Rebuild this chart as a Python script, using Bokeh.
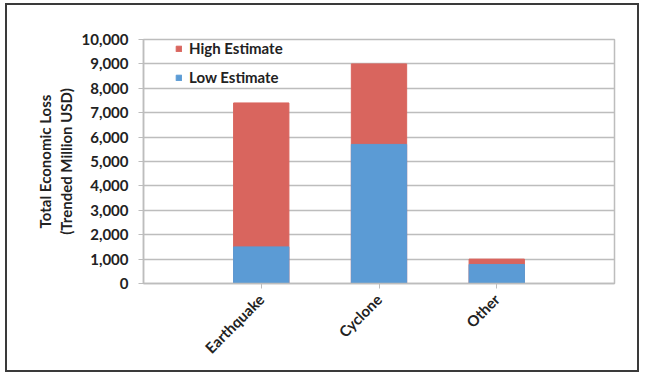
import math
from bokeh.plotting import figure
from bokeh.models import FactorRange, Range1d, NumeralTickFormatter, FixedTicker, Title
from bokeh.embed import file_html
from bokeh.resources import INLINE

categories = ["Earthquake", "Cyclone", "Other"]
low_estimate = [1500, 5700, 780]
high_estimate = [7400, 9000, 1000]
y_ticks = [0, 1000, 2000, 3000, 4000, 5000, 6000, 7000, 8000, 9000, 10000]
y_title_lines = ["Total Economic Loss", "(Trended Million USD)"]

FONT = "Lato"
RED = "#d9655e"
BLUE = "#5b9bd5"
GRID = "#bdbdbd"
TXT = "#222222"
FS = "15px"

W, H = 634, 369
x_range = FactorRange(factors=categories, range_padding=0.5, range_padding_units="absolute")
p = figure(width=W, height=H, x_range=x_range, y_range=Range1d(0, 10000),
           output_backend="svg", toolbar_location=None,
           min_border_left=136, min_border_right=27, min_border_top=34, min_border_bottom=91)
p.styles = {"border": "2px solid #3a3a3a", "margin-left": "5px", "margin-top": "3px"}

p.vbar(x=categories, top=high_estimate, width=0.47, color=RED, legend_label="High Estimate")
p.vbar(x=categories, top=low_estimate, width=0.47, color=BLUE, legend_label="Low Estimate")

p.outline_line_color = GRID
p.outline_line_width = 1.5
p.xgrid.grid_line_color = None
p.ygrid.grid_line_color = GRID
p.ygrid.grid_line_width = 1.5

p.yaxis.ticker = FixedTicker(ticks=y_ticks)
p.yaxis.formatter = NumeralTickFormatter(format="0,0")
p.yaxis.major_label_standoff = 10

for ax in (p.xaxis, p.yaxis):
    ax.axis_line_color = GRID
    ax.axis_line_width = 1.5
    ax.major_tick_line_color = GRID
    ax.major_tick_out = 5
    ax.major_tick_in = 0
    ax.minor_tick_line_color = None
    ax.major_label_text_font = FONT
    ax.major_label_text_font_style = "bold"
    ax.major_label_text_font_size = FS
    ax.major_label_text_color = TXT

p.xaxis.major_label_orientation = math.pi / 4
p.xaxis.major_label_standoff = 8

# y-axis title as two stacked left-side titles (inner line added first)
for txt, so in zip(reversed(y_title_lines), [8, -7]):
    p.add_layout(Title(text=txt, align="center", text_font=FONT, text_font_style="bold",
                       text_font_size=FS, text_color=TXT, standoff=so, offset=0), "left")

lg = p.legend[0]
lg.location = (32, 196)
lg.margin = 0
lg.padding = 0
lg.spacing = 9
lg.border_line_color = None
lg.background_fill_alpha = 0
lg.glyph_width = 7
lg.glyph_height = 7
lg.label_standoff = 7
lg.label_height = 20
lg.label_text_font = FONT
lg.label_text_font_style = "bold"
lg.label_text_font_size = FS
lg.label_text_color = TXT

open("out.html", "w").write(file_html(p, INLINE))
